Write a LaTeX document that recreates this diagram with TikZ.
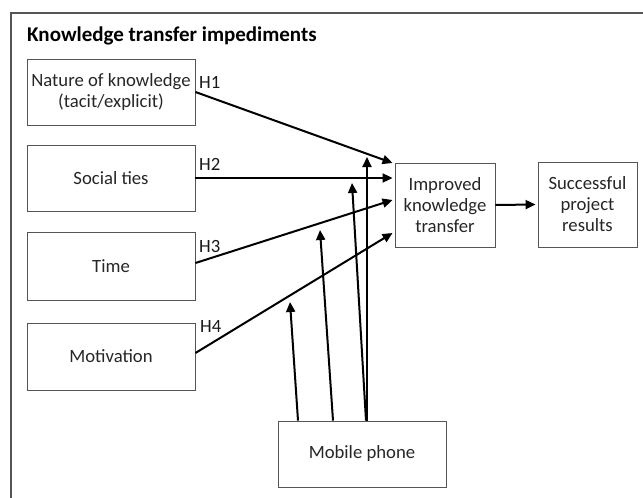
\documentclass[tikz,border=0pt]{standalone}
\usepackage{fontspec}
\setmainfont{Carlito}
\usetikzlibrary{arrows.meta,calc}
\definecolor{boxgray}{HTML}{555555}
\begin{document}
\begin{tikzpicture}[x=1pt,y=-1pt,
  box/.style={draw=boxgray,line width=0.9pt,inner sep=0pt,align=center,
    font=\fontsize{18.7}{21}\selectfont,text=black!85},
  conn/.style={line width=2pt,-{Triangle[length=10pt,width=9pt]}},
  hlab/.style={font=\fontsize{18.7}{21}\selectfont,anchor=west,inner sep=0pt,text=black!90}]
\useasboundingbox (0,0) rectangle (643,498);
\coordinate (fA) at (643,13);
\coordinate (fO) at (11,13);
\coordinate (fB) at (11,498);
\draw[boxgray,line width=1.1pt] (fA) -- (fO) -- (fB);
\node[anchor=base west,inner sep=0pt,font=\fontsize{21}{24}\selectfont\bfseries] (title) at (27,41) {Knowledge transfer impediments};
\node[box,minimum width=168pt,minimum height=66pt] (nk) at (111,92) {Nature of knowledge\\(tacit/explicit)};
\node[box,minimum width=168pt,minimum height=66pt] (st) at (111,178) {Social ties};
\node[box,minimum width=168pt,minimum height=68pt] (tm) at (111,266) {Time};
\node[box,minimum width=168pt,minimum height=67pt] (mo) at (111,356.5) {Motivation};
\node[box,minimum width=100pt,minimum height=84pt] (ikt) at (445,205) {Improved\\knowledge\\transfer};
\node[box,minimum width=99pt,minimum height=85pt] (spr) at (587.5,204.5) {Successful\\project\\results};
\node[box,minimum width=168pt,minimum height=66pt] (mp) at (362,454) {Mobile phone};
\node[hlab] (h1) at (199,82.5) {H1};
\node[hlab] (h2) at (199,164.5) {H2};
\node[hlab] (h3) at (199,246) {H3};
\node[hlab] (h4) at (200,326) {H4};
\draw[conn] (nk.east) -- ([xshift=-2pt,yshift=42pt]ikt.west);
\draw[conn] (st.east) -- ([xshift=-2pt,yshift=27pt]ikt.west);
\draw[conn] ([yshift=3pt]tm.east) -- ([xshift=-2pt,yshift=5pt]ikt.west);
\draw[conn] ([yshift=3.5pt]mo.east) -- ([xshift=-2pt,yshift=-28pt]ikt.west);
\draw[conn] (ikt.east) -- ([xshift=-2pt]spr.west);
\coordinate (m1) at (290,302);
\coordinate (m2) at (320,230);
\coordinate (m3) at (352,183);
\coordinate (m4) at (367,157);
\draw[conn] ([xshift=-64pt]mp.north) -- (m1);
\draw[conn] ([xshift=-29pt]mp.north) -- (m2);
\draw[conn] ([xshift=4pt]mp.north) -- (m3);
\draw[conn] ([xshift=5pt]mp.north) -- (m4);
\end{tikzpicture}
\end{document}
